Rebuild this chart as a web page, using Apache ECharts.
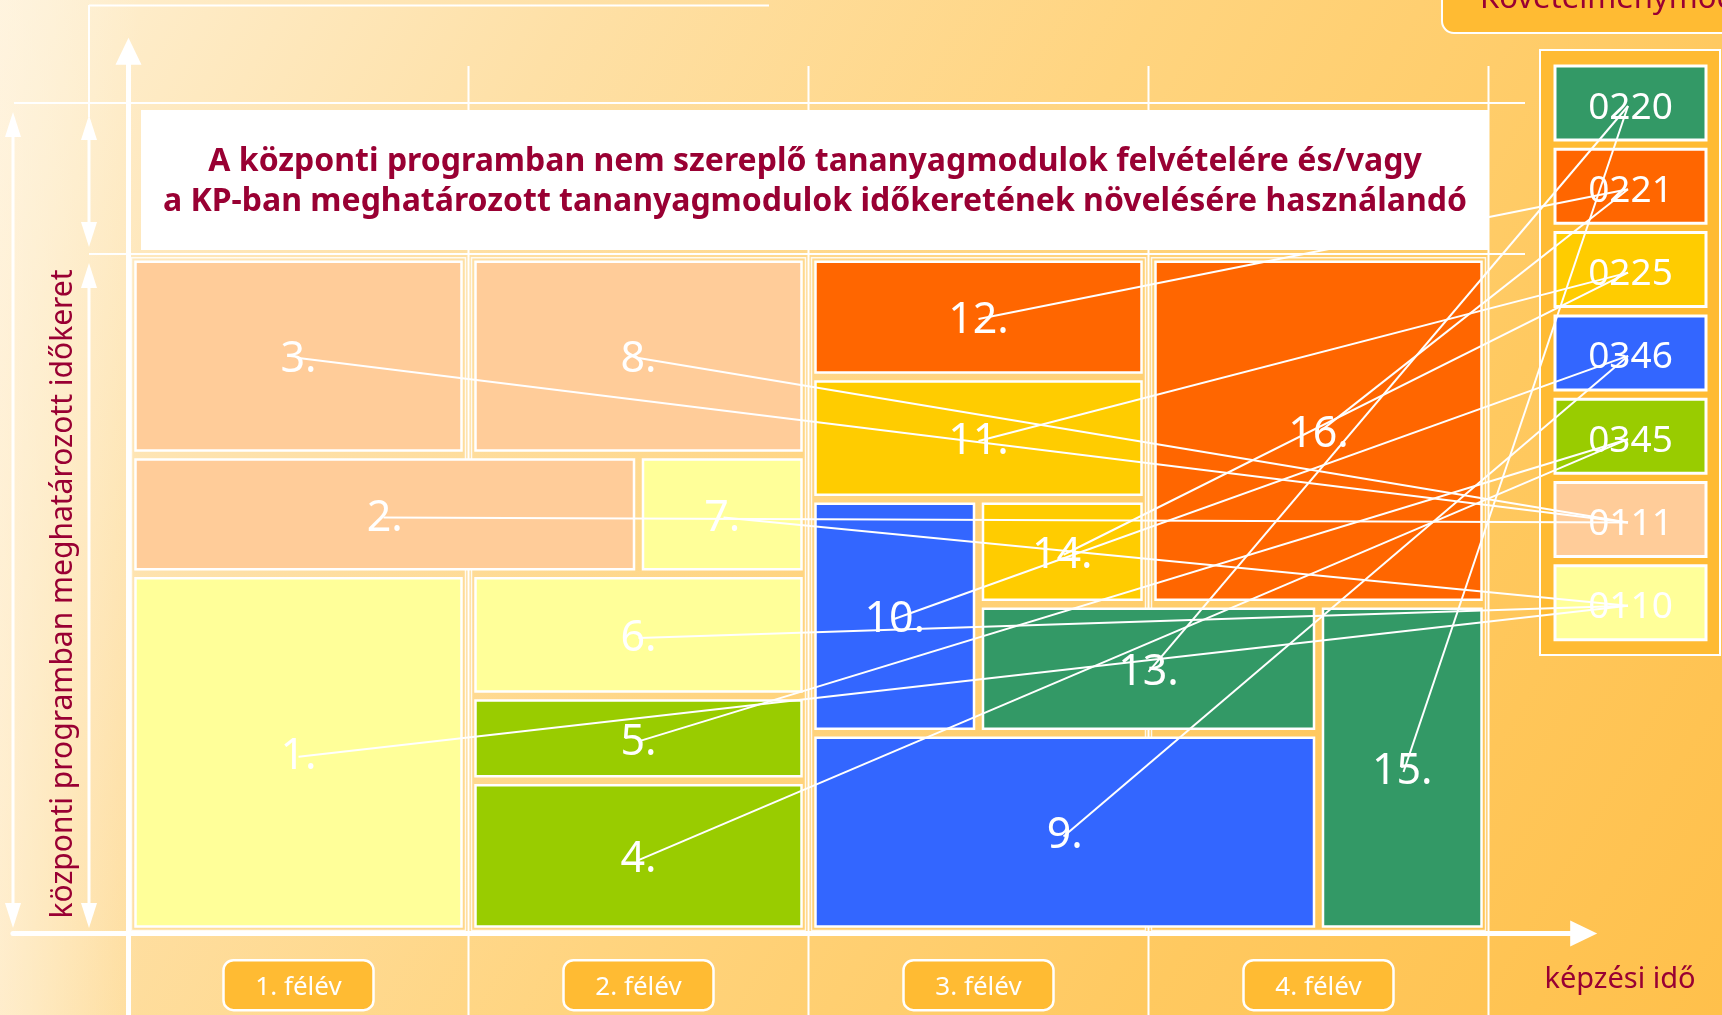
<!DOCTYPE html>
<html lang="hu">
<head>
    <meta charset="UTF-8">
    <title>Követelménymodulok</title>
    <script src="https://cdn.jsdelivr.net/npm/echarts@6/dist/echarts.min.js"></script>
    <style>
        html, body { margin: 0; padding: 0; }
        #main { width: 1722px; height: 1015px; }
    </style>
</head>
<body>

<div id="main"></div>

<script>
    // felévek (x tengely kategóriái)
    var semesters = ['1. félév', '2. félév', '3. félév', '4. félév'];

    // követelménymodulok és színeik
    var modules = ['0220', '0221', '0225', '0346', '0345', '0111', '0110'];
    var moduleColors = ['#339966', '#FF6600', '#FFCC00', '#3366FF', '#99CC00', '#FFCC99', '#FFFF99'];

    // tananyagmodulok: felév-tartomány (x) és a KP időkeret %-a (y)
    var blockNames  = ['1.', '2.', '3.', '4.', '5.', '6.', '7.', '8.', '9.', '10.', '11.', '12.', '13.', '14.', '15.', '16.'];
    var blockX0     = [0, 0, 0, 1, 1, 1, 1.5, 1, 2, 2, 2, 2, 2.5, 2.5, 3.5, 3];
    var blockX1     = [1, 1.5, 1, 2, 2, 2, 2, 2, 3.5, 2.5, 3, 3, 3.5, 3, 4, 4];
    var blockY0     = [0, 53, 70.5, 0, 22.5, 35, 53, 70.5, 0, 29.5, 64, 82, 29.5, 48.5, 0, 48.5];
    var blockY1     = [53, 70.5, 100, 22.5, 35, 53, 70.5, 100, 29.5, 64, 82, 100, 48.5, 64, 48.5, 100];
    var blockModule = ['0110', '0111', '0111', '0345', '0345', '0110', '0110', '0111', '0346', '0346', '0225', '0221', '0220', '0225', '0220', '0221'];

    var textRed = '#990033';
    var sans = '"Noto Sans", "DejaVu Sans", sans-serif';

    // jelmagyarázat dobozai (jobb oldali oszlop)
    var legendX = 1555, legendW = 151, legendTop = 66, legendPitch = 83.3, legendH = 74;
    function legendCenter(k) {
        return [1628, legendTop + k * legendPitch + legendH / 2];
    }

    var blockData = [];
    for (var i = 0; i < blockNames.length; i++) {
        blockData.push([blockX0[i], blockX1[i], blockY0[i], blockY1[i], modules.indexOf(blockModule[i])]);
    }
    var semesterData = semesters.map(function (s, i) { return [i]; });

    function insetX(v) { return v % 1 === 0 ? 7 : 4.5; }
    function insetY(v) { return (v === 0 || v === 100) ? 7 : 4.5; }

    function renderBlock(params, api) {
        var x0 = api.value(0), x1 = api.value(1), y0 = api.value(2), y1 = api.value(3);
        var tl = api.coord([x0, y1]);
        var br = api.coord([x1, y0]);
        var l = tl[0] + insetX(x0), r = br[0] - insetX(x1);
        var t = tl[1] + insetY(y1), b = br[1] - insetY(y0);
        return {
            type: 'group',
            children: [{
                type: 'rect',
                shape: { x: l, y: t, width: r - l, height: b - t },
                style: { fill: moduleColors[api.value(4)], stroke: '#fff', lineWidth: 2.5 }
            }, {
                type: 'text',
                x: (l + r) / 2,
                y: (t + b) / 2 + 4,
                style: {
                    text: blockNames[params.dataIndex],
                    fill: '#fff',
                    font: '43px ' + sans,
                    align: 'center',
                    verticalAlign: 'middle'
                }
            }]
        };
    }

    function renderLink(params, api) {
        var c = api.coord([(api.value(0) + api.value(1)) / 2, (api.value(2) + api.value(3)) / 2]);
        var e = legendCenter(api.value(4));
        return {
            type: 'line',
            shape: { x1: c[0], y1: c[1] + 3, x2: e[0], y2: e[1] + 3 },
            style: { stroke: '#fff', lineWidth: 2 }
        };
    }

    function renderSemester(params, api) {
        var i = params.dataIndex;
        var tl = api.coord([i, 100]);
        var br = api.coord([i + 1, 0]);
        var lab = api.coord([i + 0.5, -7.6]);
        return {
            type: 'group',
            children: [{
                type: 'rect',
                shape: { x: tl[0] + 3, y: tl[1] + 3, width: br[0] - tl[0] - 6, height: br[1] - tl[1] - 6 },
                style: { fill: 'none', stroke: 'rgba(255,255,255,0.85)', lineWidth: 1.5 }
            }, {
                type: 'line',
                shape: { x1: br[0], y1: 66, x2: br[0], y2: 1015 },
                style: { stroke: '#fff', lineWidth: 2 }
            }, {
                type: 'rect',
                shape: { x: lab[0] - 75, y: lab[1] - 25, width: 150, height: 50, r: 10 },
                style: { fill: '#FFBB33', stroke: '#fff', lineWidth: 2.5 }
            }, {
                type: 'text',
                x: lab[0],
                y: lab[1] + 2,
                style: {
                    text: semesters[i],
                    fill: '#fff',
                    font: '26px ' + sans,
                    align: 'center',
                    verticalAlign: 'middle'
                }
            }]
        };
    }

    // segédvonalak, nyilak
    function hLine(x1, x2, y, w) {
        return { type: 'line', z: 1, shape: { x1: x1, y1: y, x2: x2, y2: y }, style: { stroke: '#fff', lineWidth: w || 2 } };
    }
    function vLine(x, y1, y2, w) {
        return { type: 'line', z: 1, shape: { x1: x, y1: y1, x2: x, y2: y2 }, style: { stroke: '#fff', lineWidth: w || 2 } };
    }
    function doubleArrow(x, top, bottom) {
        var hw = 8, hl = 25;
        return [
            vLine(x, top + hl - 2, bottom - hl + 2, 3),
            { type: 'polygon', z: 1, shape: { points: [[x, top], [x - hw, top + hl], [x + hw, top + hl]] }, style: { fill: '#fff' } },
            { type: 'polygon', z: 1, shape: { points: [[x, bottom], [x - hw, bottom - hl], [x + hw, bottom - hl]] }, style: { fill: '#fff' } }
        ];
    }

    var graphics = [];
    graphics.push({
        type: 'rect', z: -10,
        shape: { x: 0, y: 0, width: 1722, height: 1015 },
        style: {
            fill: new echarts.graphic.LinearGradient(0, 0, 1, 1, [
                { offset: 0, color: '#FEF0D4' },
                { offset: 0.25, color: '#FEE0A6' },
                { offset: 0.5, color: '#FFD47F' },
                { offset: 0.75, color: '#FFC960' },
                { offset: 1, color: '#FFC04B' }
            ])
        }
    });
    graphics.push({
        type: 'rect', z: -9,
        shape: { x: 0, y: 0, width: 140, height: 1015 },
        style: {
            fill: new echarts.graphic.LinearGradient(0, 0, 1, 0, [
                { offset: 0, color: 'rgba(255,246,230,0.6)' },
                { offset: 1, color: 'rgba(255,246,230,0)' }
            ])
        }
    });

    graphics.push(hLine(89, 769, 5.5));
    graphics.push(vLine(89, 5, 117));
    graphics.push(hLine(14, 1525, 103));
    graphics.push(hLine(89, 1525, 254));
    graphics = graphics.concat(doubleArrow(13, 112, 928));
    graphics = graphics.concat(doubleArrow(89, 115, 247));
    graphics = graphics.concat(doubleArrow(89, 263, 928));

    // cím doboz
    graphics.push({
        type: 'rect', z: 4,
        shape: { x: 141, y: 110, width: 1347, height: 140 },
        style: { fill: '#fff' }
    });
    graphics.push({
        type: 'text', z: 5,
        x: 815, y: 182,
        style: {
            text: 'A központi programban nem szereplő tananyagmodulok felvételére és/vagy\na KP-ban meghatározott tananyagmodulok időkeretének növelésére használandó',
            fill: textRed,
            font: 'bold 32px ' + sans,
            lineHeight: 40,
            align: 'center',
            verticalAlign: 'middle'
        }
    });

    // tengelyfeliratok
    graphics.push({
        type: 'text', z: 5,
        x: 63, y: 594,
        rotation: Math.PI / 2,
        style: {
            text: 'központi programban meghatározott időkeret',
            fill: textRed,
            font: '30px ' + sans,
            align: 'center',
            verticalAlign: 'middle'
        }
    });
    graphics.push({
        type: 'text', z: 5,
        x: 1620, y: 980,
        style: { text: 'képzési idő', fill: textRed, font: '29px ' + sans, align: 'center', verticalAlign: 'middle' }
    });

    // felső, levágott "Követelménymodulok" fejléc
    graphics.push({
        type: 'rect', z: 4,
        shape: { x: 1442, y: -30, width: 320, height: 63, r: 12 },
        style: { fill: '#FFBB33', stroke: '#fff', lineWidth: 2 }
    });
    graphics.push({
        type: 'text', z: 5,
        x: 1480, y: -1,
        style: { text: 'Követelménymodulok', fill: textRed, font: '31px ' + sans, align: 'left', verticalAlign: 'middle' }
    });

    // jelmagyarázat
    graphics.push({
        type: 'rect', z: 4,
        shape: { x: 1540, y: 50, width: 180, height: 605 },
        style: { fill: '#FFBB33', stroke: '#fff', lineWidth: 2 }
    });
    for (var k = 0; k < modules.length; k++) {
        graphics.push({
            type: 'rect', z: 5,
            shape: { x: legendX, y: legendTop + k * legendPitch, width: legendW, height: legendH },
            style: { fill: moduleColors[k], stroke: '#fff', lineWidth: 3 }
        });
        graphics.push({
            type: 'text', z: 6,
            x: legendX + legendW / 2, y: legendTop + k * legendPitch + legendH / 2 + 5,
            style: { text: modules[k], fill: '#fff', font: '37px ' + sans, align: 'center', verticalAlign: 'middle' }
        });
    }

    var myChart = echarts.init(document.getElementById('main'));

    var option = {
        backgroundColor: '#FFD27A',
        animation: false,
        grid: { left: 12.9, right: 138.3, top: 51.2, bottom: 0 },
        xAxis: {
            type: 'value', min: -0.34, max: 4.28,
            axisLine: { show: true, onZero: true, symbol: ['none', 'triangle'], symbolSize: [26, 27], lineStyle: { color: '#fff', width: 5 } },
            axisTick: { show: false }, axisLabel: { show: false }, splitLine: { show: false }
        },
        yAxis: {
            type: 'value', min: -12, max: 130,
            axisLine: { show: true, onZero: true, symbol: ['none', 'triangle'], symbolSize: [26, 27], lineStyle: { color: '#fff', width: 5 } },
            axisTick: { show: false }, axisLabel: { show: false }, splitLine: { show: false }
        },
        graphic: graphics,
        series: [{
            type: 'custom',
            name: 'felévek',
            z: 2,
            renderItem: renderSemester,
            data: semesterData
        }, {
            type: 'custom',
            name: 'tananyagmodulok',
            z: 3,
            renderItem: renderBlock,
            data: blockData
        }, {
            type: 'custom',
            name: 'hozzárendelés',
            z: 10,
            renderItem: renderLink,
            data: blockData
        }]
    };

    myChart.setOption(option);
</script>
</body>
</html>
